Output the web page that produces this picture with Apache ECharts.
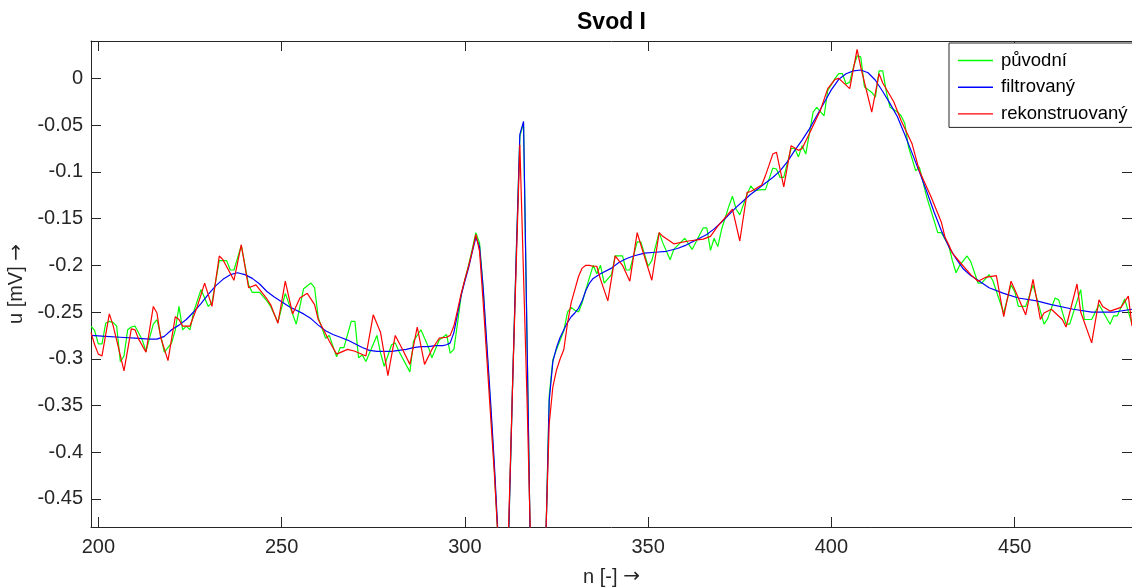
<!DOCTYPE html>
<html>
<head>
<meta charset="utf-8">
<script src="https://cdn.jsdelivr.net/npm/echarts@6/dist/echarts.min.js"></script>
<style>
html,body{margin:0;padding:0;background:#fff;}
#chart{width:1132px;height:587px;}
</style>
</head>
<body>
<div id="chart"></div>
<script>
// ---- tick values ----
const xTicks = [200, 250, 300, 350, 400, 450];
const yTicks = [-0.45, -0.4, -0.35, -0.3, -0.25, -0.2, -0.15, -0.1, -0.05, 0];

// ---- series names ----
const seriesNames = ['původní', 'filtrovaný', 'rekonstruovaný'];

// ---- původní (green) : [n, u] ----
const puvodni = [
[198,-0.265],[199,-0.270],[200,-0.284],[201,-0.284],[202,-0.262],[203,-0.260],[204,-0.261],[205,-0.265],
[206,-0.303],[207,-0.297],[208,-0.269],[209,-0.266],[210,-0.265],[212,-0.280],[213,-0.292],[215,-0.263],
[216,-0.258],[217,-0.275],[218,-0.293],[220,-0.283],[221,-0.269],[222,-0.244],[223,-0.269],[224,-0.265],
[225,-0.269],[226,-0.250],[228,-0.226],[230,-0.244],[231,-0.240],[233,-0.195],[235,-0.195],[236,-0.205],
[237,-0.205],[239,-0.179],[241,-0.221],[242,-0.229],[244,-0.229],[246,-0.238],[247,-0.244],[249,-0.261],
[251,-0.230],[254,-0.263],[256,-0.225],[258,-0.219],[259,-0.224],[260,-0.256],[262,-0.278],[263,-0.275],
[265,-0.298],[266,-0.288],[267,-0.288],[269,-0.260],[270,-0.260],[271,-0.299],[272,-0.296],[273,-0.303],
[276,-0.275],[277,-0.294],[278,-0.308],[280,-0.285],[281,-0.283],[282,-0.292],[285,-0.314],[286,-0.281],
[288,-0.269],[290,-0.287],[291,-0.299],[293,-0.280],[294,-0.277],[295,-0.274],[296,-0.294],[297,-0.290],
[298,-0.262],[299,-0.232],[300,-0.215],[301,-0.200],[302,-0.183],[303,-0.165],[304,-0.176],[305,-0.225],
[306,-0.290],[307,-0.350],[308,-0.415],[309,-0.490],[310,-0.620],[311,-0.610],[312,-0.480],[313,-0.330],
[314,-0.190],[315,-0.062],[316,-0.048],[317,-0.290],[318,-0.540],[319,-0.680],[320,-0.710],[321,-0.650],
[322,-0.510],[323,-0.340],[324,-0.301],[325,-0.290],[326,-0.280],[327,-0.270],[328,-0.250],[329,-0.245],
[330,-0.248],[331,-0.250],[332,-0.240],[333,-0.226],[335,-0.200],[336,-0.209],[337,-0.200],[338,-0.219],
[340,-0.210],[341,-0.190],[343,-0.190],[344,-0.205],[345,-0.205],[347,-0.175],[348,-0.175],[350,-0.201],
[351,-0.195],[353,-0.165],[354,-0.176],[356,-0.194],[357,-0.183],[360,-0.171],[362,-0.183],[365,-0.160],
[366,-0.160],[367,-0.184],[368,-0.171],[369,-0.180],[370,-0.162],[372,-0.137],[373,-0.126],[374,-0.140],
[375,-0.146],[377,-0.124],[378,-0.115],[379,-0.120],[381,-0.119],[382,-0.119],[384,-0.096],[385,-0.097],
[386,-0.106],[387,-0.106],[389,-0.075],[390,-0.075],[391,-0.084],[392,-0.072],[393,-0.081],[395,-0.036],
[396,-0.031],[398,-0.040],[399,-0.013],[401,-0.000],[402,0.005],[403,0.005],[404,-0.006],[405,-0.004],
[406,0.012],[407,0.024],[408,0.023],[409,-0.009],[411,-0.015],[412,-0.020],[413,0.008],[414,0.008],
[415,-0.015],[416,-0.031],[418,-0.036],[419,-0.040],[420,-0.048],[421,-0.073],[423,-0.099],[424,-0.095],
[426,-0.127],[428,-0.152],[429,-0.165],[430,-0.165],[432,-0.179],[433,-0.195],[434,-0.208],[435,-0.200],
[437,-0.190],[438,-0.196],[440,-0.219],[441,-0.219],[443,-0.210],[444,-0.216],[447,-0.251],[449,-0.221],
[450,-0.228],[451,-0.244],[453,-0.244],[455,-0.221],[458,-0.263],[459,-0.257],[461,-0.235],[462,-0.237],
[464,-0.263],[465,-0.263],[468,-0.226],[469,-0.258],[471,-0.258],[473,-0.242],[476,-0.263],[477,-0.254],
[478,-0.254],[480,-0.236],[482,-0.263]
];

// ---- filtrovaný (blue) : [n, u] ----
const filtrovany = [
[198,-0.275],[202,-0.276],[206,-0.277],[210,-0.278],[214,-0.279],[216,-0.279],[218,-0.276],[220,-0.269],
[222,-0.264],[224,-0.258],[226,-0.250],[228,-0.241],[230,-0.231],[232,-0.222],[234,-0.215],[236,-0.210],
[238,-0.208],[240,-0.210],[242,-0.214],[244,-0.220],[246,-0.228],[248,-0.234],[250,-0.239],[252,-0.244],
[254,-0.248],[256,-0.252],[258,-0.257],[260,-0.264],[262,-0.270],[264,-0.274],[266,-0.277],[268,-0.280],
[270,-0.284],[272,-0.288],[274,-0.291],[276,-0.292],[278,-0.292],[280,-0.292],[282,-0.291],[284,-0.290],
[286,-0.288],[288,-0.287],[290,-0.287],[292,-0.286],[294,-0.286],[295,-0.285],[296,-0.283],[297,-0.272],
[298,-0.252],[299,-0.232],[300,-0.217],[301,-0.203],[302,-0.186],[303,-0.170],[304,-0.180],[305,-0.225],
[306,-0.285],[307,-0.345],[308,-0.410],[309,-0.485],[310,-0.620],[311,-0.610],[312,-0.480],[313,-0.330],
[314,-0.190],[315,-0.060],[316,-0.046],[317,-0.290],[318,-0.540],[319,-0.680],[320,-0.710],[321,-0.650],
[322,-0.510],[323,-0.345],[324,-0.303],[325,-0.288],[326,-0.277],[327,-0.269],[328,-0.261],[329,-0.255],
[330,-0.251],[331,-0.246],[332,-0.238],[333,-0.227],[334,-0.219],[335,-0.214],[337,-0.209],[340,-0.203],
[342,-0.197],[344,-0.193],[346,-0.190],[349,-0.187],[352,-0.186],[355,-0.185],[358,-0.182],[360,-0.179],
[362,-0.175],[364,-0.171],[366,-0.167],[368,-0.161],[370,-0.154],[372,-0.146],[374,-0.138],[376,-0.131],
[378,-0.124],[380,-0.118],[382,-0.112],[384,-0.106],[386,-0.099],[388,-0.089],[390,-0.077],[392,-0.066],
[394,-0.054],[396,-0.040],[398,-0.026],[400,-0.012],[402,-0.001],[404,0.005],[406,0.008],[408,0.009],
[410,0.006],[412,-0.002],[414,-0.014],[416,-0.027],[418,-0.041],[420,-0.060],[422,-0.080],[424,-0.100],
[426,-0.121],[428,-0.143],[430,-0.163],[432,-0.180],[434,-0.193],[436,-0.204],[438,-0.211],[440,-0.216],
[443,-0.224],[447,-0.230],[451,-0.235],[456,-0.238],[460,-0.242],[466,-0.247],[471,-0.250],[477,-0.250],
[482,-0.247]
];

// ---- rekonstruovaný (red) : [n, u] ----
const rekonstruovany = [
[198,-0.272],[199,-0.285],[200,-0.295],[201,-0.297],[203,-0.252],[204,-0.264],[205,-0.280],[207,-0.313],
[209,-0.268],[210,-0.269],[211,-0.279],[213,-0.293],[215,-0.244],[216,-0.251],[217,-0.277],[219,-0.302],
[221,-0.255],[222,-0.258],[223,-0.265],[225,-0.265],[227,-0.244],[229,-0.219],[231,-0.244],[233,-0.190],
[234,-0.194],[237,-0.216],[239,-0.178],[241,-0.224],[243,-0.221],[246,-0.236],[247,-0.242],[248,-0.252],
[249,-0.262],[251,-0.217],[253,-0.252],[255,-0.235],[257,-0.230],[259,-0.242],[260,-0.258],[263,-0.281],
[265,-0.295],[268,-0.290],[270,-0.292],[273,-0.297],[275,-0.253],[277,-0.272],[279,-0.318],[281,-0.275],
[283,-0.290],[285,-0.306],[287,-0.266],[289,-0.306],[291,-0.290],[293,-0.278],[295,-0.277],[296,-0.275],
[297,-0.265],[298,-0.248],[299,-0.230],[300,-0.215],[301,-0.201],[302,-0.185],[303,-0.167],[304,-0.185],
[305,-0.240],[306,-0.300],[307,-0.360],[308,-0.420],[309,-0.490],[310,-0.620],[311,-0.600],[312,-0.470],
[313,-0.330],[314,-0.200],[315,-0.071],[316,-0.210],[317,-0.350],[318,-0.510],[319,-0.650],[320,-0.700],
[321,-0.640],[322,-0.500],[323,-0.370],[324,-0.330],[325,-0.312],[326,-0.300],[327,-0.290],[328,-0.262],
[329,-0.240],[330,-0.226],[331,-0.212],[332,-0.203],[333,-0.200],[334,-0.200],[335,-0.201],[336,-0.201],
[337,-0.215],[339,-0.238],[341,-0.190],[343,-0.200],[345,-0.217],[347,-0.165],[348,-0.178],[351,-0.216],
[353,-0.165],[354,-0.169],[357,-0.177],[361,-0.174],[365,-0.172],[367,-0.169],[369,-0.158],[371,-0.149],
[373,-0.140],[375,-0.174],[377,-0.122],[378,-0.121],[381,-0.114],[382,-0.104],[384,-0.081],[385,-0.079],
[387,-0.116],[389,-0.072],[391,-0.077],[392,-0.075],[394,-0.059],[397,-0.034],[399,-0.011],[401,-0.001],
[402,0.000],[405,-0.011],[407,0.031],[408,0.012],[411,-0.036],[413,0.005],[414,-0.005],[417,-0.025],
[419,-0.045],[422,-0.070],[424,-0.099],[427,-0.125],[430,-0.154],[431,-0.170],[432,-0.178],[433,-0.187],
[436,-0.201],[438,-0.210],[440,-0.217],[442,-0.213],[445,-0.211],[447,-0.255],[449,-0.217],[451,-0.235],
[453,-0.253],[455,-0.215],[457,-0.258],[458,-0.251],[460,-0.247],[463,-0.258],[464,-0.266],[467,-0.220],
[468,-0.250],[471,-0.283],[473,-0.237],[474,-0.244],[476,-0.249],[479,-0.245],[481,-0.233],[482,-0.265]
];

const FONT = "'Liberation Sans', Arial, Helvetica, sans-serif";
const AX = '#262626';

const chart = echarts.init(document.getElementById('chart'), null, {renderer: 'canvas'});

function baseX(pos, showLabel) {
  return {
    type: 'value', position: pos, min: 198, max: 482,
    axisLine: {show: true, onZero: false, lineStyle: {color: AX, width: 1}},
    axisTick: {show: true, inside: true, length: 10, customValues: xTicks, lineStyle: {color: AX}},
    axisLabel: {show: showLabel, customValues: xTicks, color: AX, fontSize: 20, fontFamily: FONT, margin: 10},
    splitLine: {show: false}
  };
}
function baseY(pos, showLabel) {
  return {
    type: 'value', position: pos, min: -0.48, max: 0.04,
    axisLine: {show: true, onZero: false, lineStyle: {color: AX, width: 1}},
    axisTick: {show: true, inside: true, length: 10, customValues: yTicks, lineStyle: {color: AX}},
    axisLabel: {show: showLabel, customValues: yTicks, color: AX, fontSize: 20, fontFamily: FONT, margin: 8,
      formatter: v => String(v)},
    splitLine: {show: false}
  };
}

const nameRich = {
  arr: {fontFamily: "'DejaVu Sans', sans-serif", fontSize: 20, color: AX}
};

const xMain = baseX('bottom', true);
xMain.name = 'n [-] {arr|→}';
xMain.nameLocation = 'middle';
xMain.nameGap = 40;
xMain.nameTextStyle = {color: AX, fontSize: 20, fontFamily: FONT, rich: nameRich};

const yMain = baseY('left', true);
yMain.name = 'u [mV] {arr|→}';
yMain.nameLocation = 'middle';
yMain.nameGap = 58;
yMain.nameTextStyle = {color: AX, fontSize: 20, fontFamily: FONT, rich: nameRich};

const colors = ['#00ff00', '#0000ff', '#ff0000'];
const datasets = [puvodni, filtrovany, rekonstruovany];

chart.setOption({
  animation: false,
  backgroundColor: '#ffffff',
  title: {
    text: 'Svod I', left: 577, top: 11, padding: 0,
    textStyle: {fontSize: 23, fontWeight: 'bold', color: '#000', fontFamily: FONT}
  },
  grid: {left: 91, right: 0, top: 41, bottom: 60, containLabel: false, outerBoundsMode: 'none'},
  xAxis: [xMain, baseX('top', false)],
  yAxis: [yMain, baseY('right', false)],
  legend: {
    data: seriesNames,
    orient: 'vertical',
    icon: 'rect',
    left: 949, top: 43,
    padding: [8, 8, 4, 9],
    itemGap: 7.7,
    itemWidth: 35,
    itemHeight: 1.4,
    backgroundColor: '#ffffff',
    borderColor: AX,
    borderWidth: 1,
    textStyle: {fontSize: 18.5, fontFamily: FONT, color: '#000', lineHeight: 18, padding: [0, 0, 0, 3]}
  },
  series: seriesNames.map((nm, i) => ({
    name: nm,
    type: 'line',
    xAxisIndex: 0, yAxisIndex: 0,
    data: datasets[i],
    symbol: 'none',
    showSymbol: false,
    lineStyle: {color: colors[i], width: 1.2},
    itemStyle: {color: colors[i]},
    clip: true,
    z: 2 + i
  }))
});
</script>
</body>
</html>
